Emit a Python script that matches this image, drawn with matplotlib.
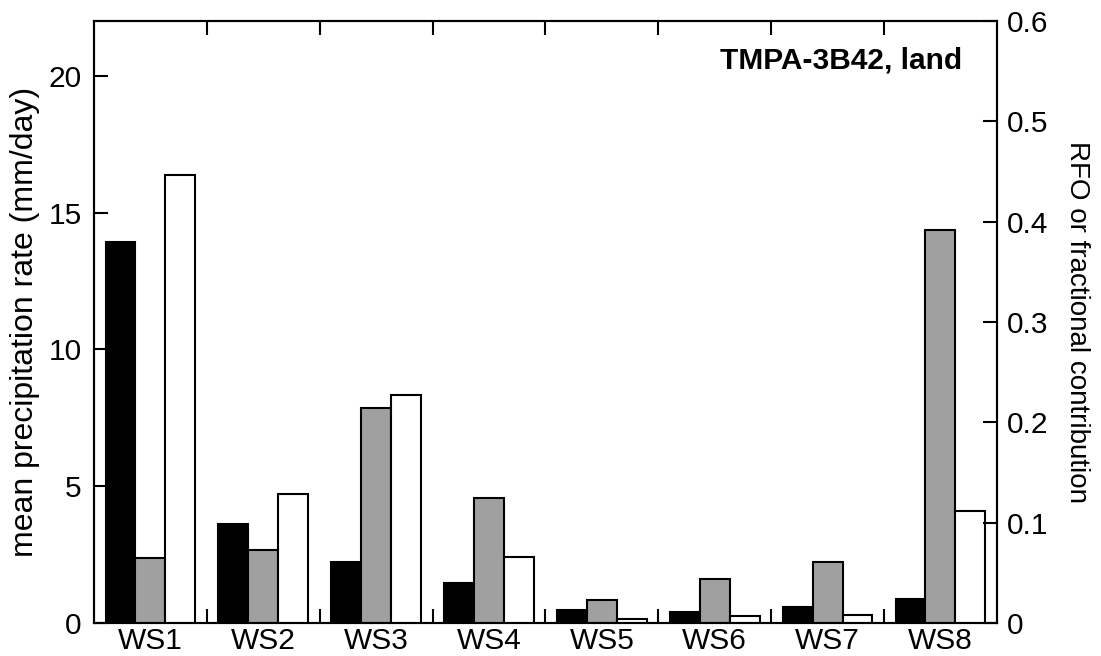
import numpy as np
import matplotlib
matplotlib.use('Agg')
import matplotlib.pyplot as plt

plt.rcParams['font.family'] = ['Liberation Sans', 'DejaVu Sans']

regimes = ['WS1', 'WS2', 'WS3', 'WS4', 'WS5', 'WS6', 'WS7', 'WS8']
# mean precipitation rate (mm/day), left axis
precip = [13.94, 3.61, 2.23, 1.46, 0.47, 0.39, 0.57, 0.87]
# relative frequency of occurrence, right axis
rfo = [0.065, 0.073, 0.214, 0.125, 0.023, 0.044, 0.061, 0.392]
# fractional contribution to total precipitation, right axis
frac = [0.447, 0.129, 0.227, 0.066, 0.004, 0.007, 0.008, 0.112]

x = np.arange(len(regimes)) + 0.5
w = 0.265

fig = plt.figure(figsize=(11.01, 6.56), dpi=100)
ax = fig.add_axes([0.0854, 0.0503, 0.82, 0.9177])
ax2 = ax.twinx()

ax.bar(x - w, precip, w, color='black', edgecolor='black', linewidth=1.5)
ax2.bar(x, rfo, w, color='#a0a0a0', edgecolor='black', linewidth=1.5)
ax2.bar(x + w, frac, w, color='white', edgecolor='black', linewidth=1.5)

ax.set_xlim(0, 8)
ax.set_ylim(0, 22)
ax2.set_ylim(0, 0.6)

ax.set_yticks([0, 5, 10, 15, 20])
ax2.set_yticks([0, 0.1, 0.2, 0.3, 0.4, 0.5, 0.6])
ax2.set_yticklabels(['0', '0.1', '0.2', '0.3', '0.4', '0.5', '0.6'])

# group separators as ticks on bottom and top, labels at group centres
ax.set_xticks(np.arange(1, 8))
ax.set_xticklabels([])
ax.set_xticks(x, minor=True)
ax.set_xticklabels(regimes, minor=True)
ax.tick_params(axis='x', which='major', direction='in', length=10, width=1.5,
               top=True, bottom=True)
ax.tick_params(axis='x', which='minor', length=0, labelsize=21.5, pad=3)
ax.tick_params(axis='y', direction='in', length=10, width=1.5, labelsize=21.5, pad=9)
ax2.tick_params(axis='y', direction='in', length=10, width=1.5, labelsize=21.5, pad=7)

for sp in ax.spines.values():
    sp.set_linewidth(1.5)
for sp in ax2.spines.values():
    sp.set_linewidth(1.5)

ax.set_ylabel('mean precipitation rate (mm/day)', fontsize=23, labelpad=6)
ax2.set_ylabel('RFO or fractional contribution', fontsize=20, rotation=270,
               labelpad=30)

ax.text(0.962, 0.935, 'TMPA-3B42, land', transform=ax.transAxes, ha='right',
        va='center', fontsize=21.5, fontweight='bold')

fig.savefig('out.png', dpi=100)
